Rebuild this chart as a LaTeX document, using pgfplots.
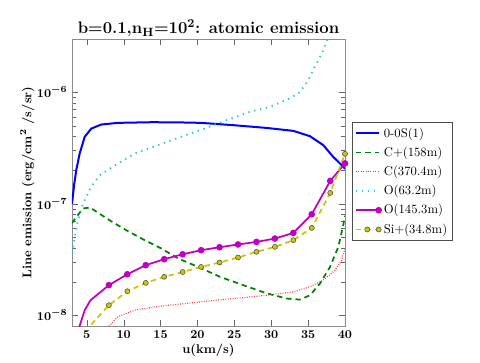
\documentclass[border=0pt]{standalone}
\usepackage{pgfplots}
\pgfplotsset{compat=1.18}

\definecolor{cgreen}{RGB}{0,128,0}
\definecolor{ccyan}{RGB}{40,200,200}
\definecolor{cmag}{RGB}{191,0,191}
\definecolor{cyel}{RGB}{200,200,0}

\begin{document}
\begin{tikzpicture}
\path[use as bounding box] (-54pt,-27.75pt) rectangle (306pt,244.5pt);
\begin{axis}[
    scale only axis,
    width=204.75pt, height=215.25pt,
    ymode=log,
    xmin=3, xmax=40,
    ymin=8e-9, ymax=3e-6,
    xtick={5,10,...,40},
    ytick={1e-8,1e-7,1e-6},
    tick align=inside,
    axis line style={black!45},
    tick style={black!60},
    tick label style={font=\fontsize{9.5}{10}\selectfont\boldmath},
    title={\textbf{b=0.1,n$_{\mathbf{H}}$=10$^{\mathbf{2}}$: atomic emission}},
    title style={font=\fontsize{12.5}{13}\selectfont, yshift=-8pt},
    xlabel={\textbf{u(km/s)}},
    ylabel={\textbf{Line emission (erg/cm$^{\mathbf{2}}$ /s/sr)}},
    label style={font=\fontsize{9.5}{11}\selectfont},
    xlabel style={yshift=3pt},
    ylabel style={yshift=-5pt},
    legend style={at={(1.0256,0.711)}, anchor=north west,
        font=\fontsize{9.5}{11}\selectfont, draw=black!70,
        row sep=1.8pt, inner sep=2pt},
    legend cell align=left,
]
\addplot[blue, line width=1.5pt] coordinates {
(3,1.0e-7) (3.3,1.5e-7) (3.58,2.0e-7) (4.04,2.82e-7) (4.72,3.98e-7) (5.62,4.72e-7)
(6.97,5.13e-7) (9.23,5.31e-7) (13.75,5.38e-7) (17,5.37e-7) (20.5,5.31e-7)
(24.9,5.06e-7) (29.4,4.78e-7) (33,4.5e-7) (35.26,4.03e-7) (37.06,3.35e-7)
(38.4,2.63e-7) (39.8,2.14e-7) (40,2.05e-7)
};
\addlegendentry{0-0S(1)}

\addplot[cgreen, line width=1.3pt, dash pattern=on 4pt off 3pt] coordinates {
(3,6.7e-8) (3.14,6.9e-8) (3.59,7.6e-8) (4.49,9.06e-8) (5.44,9.25e-8) (8.1,7.1e-8)
(10.36,5.78e-8) (12.85,4.71e-8) (15.1,3.97e-8) (17.37,3.23e-8) (20.1,2.71e-8)
(23.06,2.21e-8) (26.2,1.86e-8) (29.4,1.57e-8) (32.1,1.41e-8) (33.9,1.38e-8)
(35.26,1.51e-8) (36.6,1.92e-8) (37.97,2.71e-8) (39.1,4.1e-8) (39.8,6.6e-8) (40,7.8e-8)
};
\addlegendentry{C+(158m)}

\addplot[red!80, line width=0.9pt, dash pattern=on 0.6pt off 1.2pt] coordinates {
(7.5,7.5e-9) (8.1,8.1e-9) (9.23,9.7e-9) (11.5,1.11e-8) (14.66,1.2e-8) (18.3,1.27e-8)
(21,1.33e-8) (24.9,1.41e-8) (29.4,1.51e-8) (33,1.62e-8) (35.26,1.8e-8)
(37.06,2.06e-8) (38.65,2.53e-8) (39.55,3.11e-8) (40,4.0e-8)
};
\addlegendentry{C(370.4m)}

\addplot[ccyan, line width=1.4pt, dash pattern=on 1pt off 3.5pt] coordinates {
(3,3.6e-8) (3.14,4.1e-8) (3.81,7.1e-8) (4.49,1.0e-7) (5.62,1.42e-7) (6.75,1.8e-7)
(9.23,2.29e-7) (11.5,2.82e-7) (14.66,3.35e-7) (18.3,4.1e-7) (21,4.72e-7)
(23.7,5.53e-7) (27.1,6.66e-7) (29.8,7.38e-7) (32.5,8.78e-7) (33.9,1.0e-6)
(35,1.28e-6) (35.9,1.69e-6) (36.85,2.22e-6) (37.5,2.83e-6) (38,3.4e-6)
};
\addlegendentry{O(63.2m)}

\addplot[cmag, line width=1.3pt, mark=*, mark size=1.8pt,
    mark options={solid, fill=cmag, draw=cmag}, mark indices={3,...,16}] coordinates {
(3.9,7.5e-9) (4.72,1.11e-8) (5.5,1.36e-8) (8,1.86e-8) (10.5,2.33e-8) (13,2.81e-8)
(15.5,3.18e-8) (18,3.52e-8) (20.5,3.83e-8) (23,4.07e-8) (25.5,4.31e-8) (28,4.54e-8)
(30.5,4.87e-8) (33,5.47e-8) (35.5,8.05e-8) (38,1.6e-7) (40,2.3e-7)
};
\addlegendentry{O(145.3m)}

\addplot[cyel, line width=1.3pt, dash pattern=on 4pt off 3pt, mark=*, mark size=1.9pt,
    mark options={solid, fill=cyel, draw=black!70, line width=0.4pt}, mark indices={2,...,15}] coordinates {
(5.0,7.0e-9) (5.5,8.1e-9) (8,1.23e-8) (10.5,1.64e-8) (13,1.95e-8) (15.5,2.21e-8)
(18,2.44e-8) (20.5,2.71e-8) (23,2.97e-8) (25.5,3.29e-8) (28,3.7e-8) (30.5,4.1e-8)
(33,4.71e-8) (35.5,6.07e-8) (38,1.25e-7) (40,2.8e-7)
};
\addlegendentry{Si+(34.8m)}
\end{axis}
\end{tikzpicture}
\end{document}
